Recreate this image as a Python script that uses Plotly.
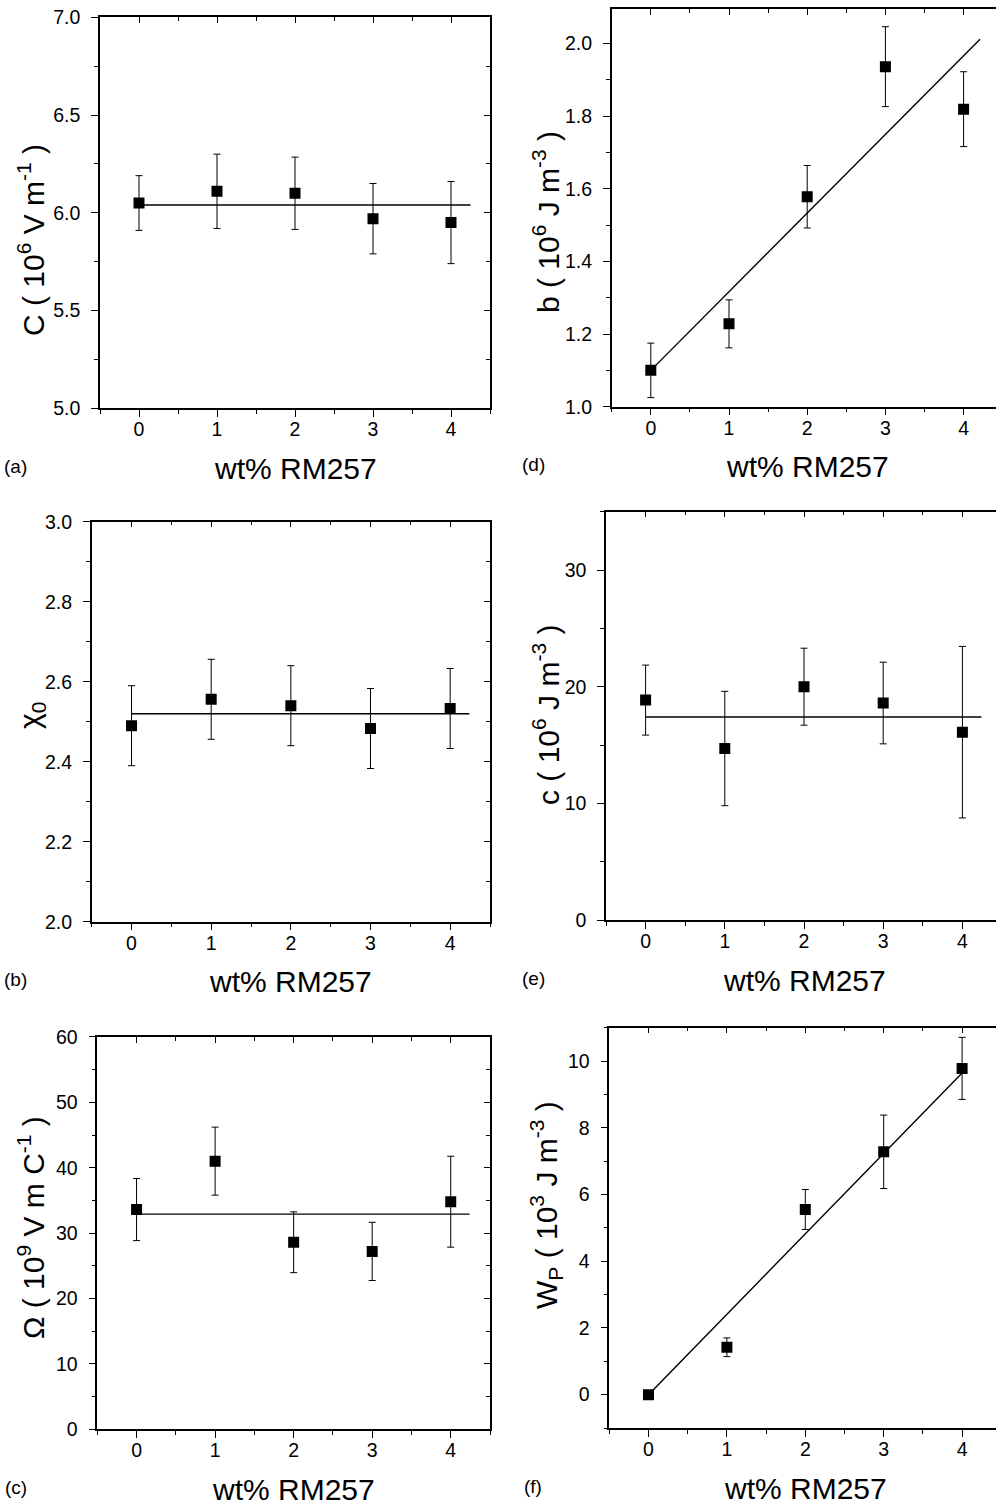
import plotly.graph_objects as go

# ---- data -------------------------------------------------------------
wt_pct = [0, 1, 2, 3, 4]

C_vals = [6.05, 6.11, 6.10, 5.97, 5.95]
C_err = [0.14, 0.19, 0.185, 0.18, 0.21]

chi0_vals = [2.49, 2.556, 2.54, 2.483, 2.533]
chi0_err = [0.10, 0.10, 0.10, 0.10, 0.10]

omega_vals = [33.6, 41.0, 28.6, 27.2, 34.8]
omega_err = [4.75, 5.2, 4.65, 4.45, 6.95]

b_vals = [1.10, 1.228, 1.578, 1.936, 1.819]
b_err = [0.075, 0.066, 0.086, 0.11, 0.103]

c_vals = [18.85, 14.7, 20.0, 18.6, 16.1]
c_err = [3.0, 4.9, 3.3, 3.5, 7.35]

wp_vals = [0.0, 1.42, 5.55, 7.28, 9.78]
wp_err = [0.0, 0.28, 0.6, 1.1, 0.93]

# fitted lines: intercept, slope, end of the drawn fit
fit_intercept = [6.04, 2.52, 32.9, 1.10, 17.4, 0.0]
fit_slope = [0.0, 0.0, 0.0, 0.2165, 0.0, 2.41]
fit_xmax = [4.25, 4.24, 4.24, 4.21, 4.24, 4.0]

x_ticks = [0, 1, 2, 3, 4]

# ---- page geometry (pixels) -------------------------------------------
W, H = 996, 1505
FONT = "Liberation Sans, Arial, sans-serif"

panels = [
    dict(lab="(a)", y=C_vals, e=C_err,
         title="C ( 10<sup>6</sup> V m<sup>-1</sup> )",
         box=(100, 490, 17.3, 408.3), xr=(-0.5, 4.5), yr=(5.0, 7.0),
         dt=0.5, mdt=0.25, fmt=".1f", right=True, tpos=(31, 240)),
    dict(lab="(b)", y=chi0_vals, e=chi0_err,
         title="χ<sub>0</sub>",
         box=(91.7, 490, 521.7, 921.7), xr=(-0.5, 4.5), yr=(2.0, 3.0),
         dt=0.2, mdt=0.1, fmt=".1f", right=True, tpos=(31, 716)),
    dict(lab="(c)", y=omega_vals, e=omega_err,
         title="Ω ( 10<sup>9</sup> V m C<sup>-1</sup> )",
         box=(97.3, 490, 1036.9, 1429.3), xr=(-0.5, 4.5), yr=(0, 60),
         dt=10, mdt=5, fmt="d", right=True, tpos=(31, 1228)),
    dict(lab="(d)", y=b_vals, e=b_err,
         title="b ( 10<sup>6</sup> J m<sup>-3</sup> )",
         box=(611.7, 996, 9, 406.7), xr=(-0.5, -0.5 + (996 - 611.7) / 78.2),
         yr=(1.0, 1.0 + (406.7 - 9) / 363.3),
         dt=0.2, mdt=0.1, fmt=".1f", right=False, tpos=(546, 222)),
    dict(lab="(e)", y=c_vals, e=c_err,
         title="c ( 10<sup>6</sup> J m<sup>-3</sup> )",
         box=(606, 996, 511.7, 920), xr=(-0.5, -0.5 + (996 - 606) / 79.2),
         yr=(0, 35), dt=10, mdt=5, fmt="d", right=False, tpos=(546, 715)),
    dict(lab="(f)", y=wp_vals, e=wp_err,
         title="W<sub>P</sub> ( 10<sup>3</sup> J m<sup>-3</sup> )",
         box=(609.3, 996, 1027.7, 1428), xr=(-0.5, -0.5 + (996 - 609.3) / 78.4),
         yr=(-1, 11), dt=2, mdt=1, fmt="d", right=False, tpos=(546, 1205)),
]

fig = go.Figure()

common = dict(
    showline=True, linecolor="black", linewidth=1.5,
    showgrid=False, zeroline=False, automargin=False,
    tickcolor="black", tickwidth=1.2, ticklen=7,
    tickfont=dict(family=FONT, size=19.5, color="black"),
)

layout = dict(
    width=W, height=H, margin=dict(l=0, r=0, t=0, b=0, pad=0, autoexpand=False),
    paper_bgcolor="white", plot_bgcolor="white", showlegend=False,
    font=dict(family=FONT, color="black"),
)
annotations = []

n = len(panels)
for i, p in enumerate(panels):
    k = i + 1
    xa, ya = f"x{k}", f"y{k}"
    xk, yk = f"xaxis{k}", f"yaxis{k}"
    x0, x1, y0, y1 = p["box"]
    xdom = [x0 / W, min(x1 / W, 1.0)]
    ydom = [1 - y1 / H, 1 - y0 / H]

    layout[xk] = dict(common, domain=xdom, range=list(p["xr"]), anchor=ya,
                      tickmode="array", tickvals=x_ticks, ticks="outside",
                      ticklabelstandoff=-4,
                      minor=dict(ticks="outside", ticklen=4, dtick=0.5, tick0=0,
                                 tickcolor="black", tickwidth=1.2, showgrid=False))
    layout[yk] = dict(common, domain=ydom, range=list(p["yr"]), anchor=xa,
                      dtick=p["dt"], tick0=0, ticks="outside", tickformat=p["fmt"],
                      ticklabelstandoff=7,
                      minor=dict(ticks="outside", ticklen=4, dtick=p["mdt"], tick0=0,
                                 tickcolor="black", tickwidth=1.2, showgrid=False))

    # top frame with inward ticks
    tk = n + k
    layout[f"xaxis{tk}"] = dict(common, overlaying=xa, anchor=ya, side="top",
                                range=list(p["xr"]), tickmode="array", tickvals=x_ticks,
                                ticks="inside", ticklen=6, showticklabels=False,
                                minor=dict(ticks="inside", ticklen=4, dtick=0.5, tick0=0,
                                           tickcolor="black", tickwidth=1.2, showgrid=False))
    fig.add_trace(go.Scatter(x=[None], y=[None], xaxis=f"x{tk}", yaxis=ya,
                             hoverinfo="skip"))
    # right frame with inward ticks
    if p["right"]:
        rk = 2 * n + k
        layout[f"yaxis{rk}"] = dict(common, overlaying=ya, anchor=xa, side="right",
                                    range=list(p["yr"]), dtick=p["dt"], tick0=0,
                                    ticks="inside", ticklen=6, showticklabels=False,
                                    minor=dict(ticks="inside", ticklen=4, dtick=p["mdt"],
                                               tick0=0, tickcolor="black", tickwidth=1.2,
                                               showgrid=False))
        fig.add_trace(go.Scatter(x=[None], y=[None], xaxis=xa, yaxis=f"y{rk}",
                                 hoverinfo="skip"))

    # fitted line
    fx = [0, fit_xmax[i]]
    fy = [fit_intercept[i] + fit_slope[i] * v for v in fx]
    fig.add_trace(go.Scatter(x=fx, y=fy, mode="lines", xaxis=xa, yaxis=ya,
                             line=dict(color="black", width=1.4), hoverinfo="skip"))
    # data points with error bars
    fig.add_trace(go.Scatter(
        x=wt_pct, y=p["y"], mode="markers", xaxis=xa, yaxis=ya,
        marker=dict(symbol="square", size=11, color="black"),
        error_y=dict(type="data", array=p["e"], visible=True,
                     color="black", thickness=1, width=3.5),
    ))

    # x-axis title
    annotations.append(dict(text="wt% RM257", x=2, xref=xa,
                            y=1 - (y1 + 60) / H, yref="paper",
                            showarrow=False, xanchor="center", yanchor="middle",
                            font=dict(family=FONT, size=30, color="black")))
    # y-axis title
    tx, ty = p["tpos"]
    annotations.append(dict(text=p["title"], x=tx / W, y=1 - ty / H,
                            xref="paper", yref="paper", textangle=-90,
                            showarrow=False, xanchor="center", yanchor="middle",
                            font=dict(family=FONT, size=30, color="black")))
    # panel label
    lx = 16 if i < 3 else 533
    annotations.append(dict(text=p["lab"], x=lx / W, y=1 - (y1 + 58) / H,
                            xref="paper", yref="paper", showarrow=False,
                            xanchor="center", yanchor="middle",
                            font=dict(family=FONT, size=19, color="black")))

layout["annotations"] = annotations
fig.update_layout(**layout)
fig.write_html("out.html")
